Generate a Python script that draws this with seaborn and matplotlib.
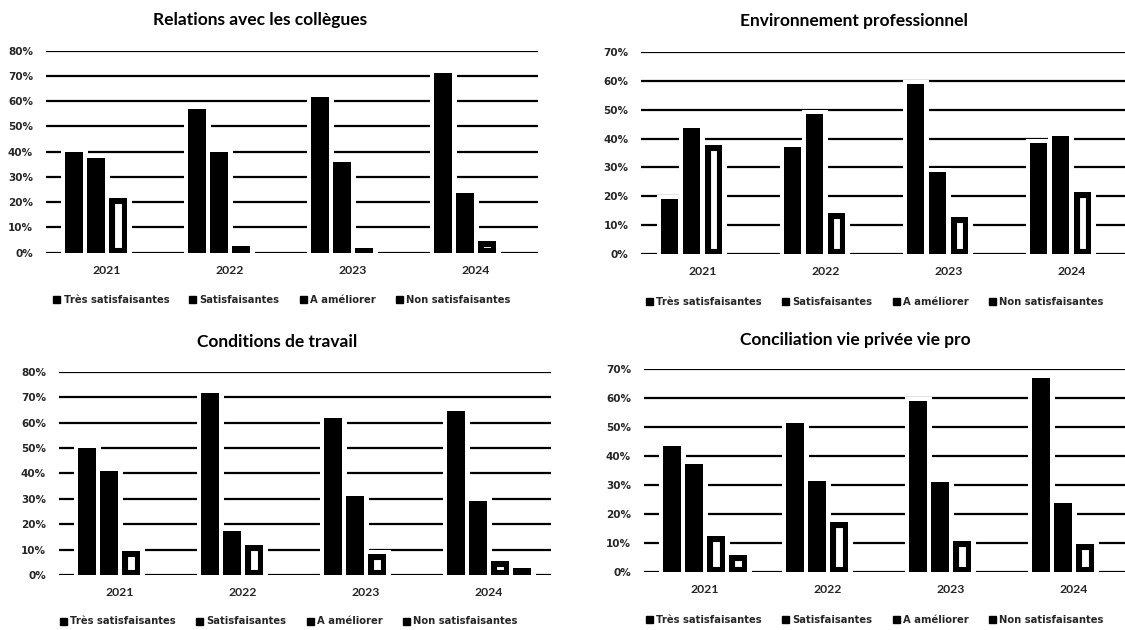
import matplotlib
matplotlib.use("Agg")
import matplotlib.pyplot as plt
from matplotlib.patches import Patch
from matplotlib.font_manager import FontProperties
import pandas as pd
import seaborn as sns

# ---------------- data ----------------
years = ["2021", "2022", "2023", "2024"]
series = ["Très satisfaisantes", "Satisfaisantes", "A améliorer", "Non satisfaisantes"]

titles = ["Relations avec les collègues", "Environnement professionnel",
          "Conditions de travail", "Conciliation vie privée vie pro"]

relations_tres = [40, 57, 61.5, 71]
relations_satis = [37.4, 40, 36, 23.5]
relations_amel = [21.5, 2.5, 2, 4.5]
relations_non = [0, 0, 0, 0]

environnement_tres = [19, 37, 59, 38.6]
environnement_satis = [43.7, 48.5, 28.5, 40.9]
environnement_amel = [37.6, 14.3, 13, 21.6]
environnement_non = [0, 0, 0, 0]

conditions_tres = [50, 71.6, 61.6, 64.6]
conditions_satis = [41, 17.4, 31.2, 29]
conditions_amel = [9.6, 11.8, 8.1, 5.6]
conditions_non = [0, 0, 0, 2.7]

conciliation_tres = [43.6, 51.3, 59, 66.9]
conciliation_satis = [37.4, 31.3, 31, 23.9]
conciliation_amel = [12.4, 17.1, 10.7, 9.8]
conciliation_non = [6, 0, 0, 0]

y_max = [80, 70, 80, 70]

all_values = [
    [relations_tres, relations_satis, relations_amel, relations_non],
    [environnement_tres, environnement_satis, environnement_amel, environnement_non],
    [conditions_tres, conditions_satis, conditions_amel, conditions_non],
    [conciliation_tres, conciliation_satis, conciliation_amel, conciliation_non],
]

# ---------------- layout (pixels) ----------------
W, H = 1125, 630
axes_px = [(45.5, 537.5, 50.7, 252.7),
           (641, 1133, 51.7, 254.3),
           (58.5, 550.5, 371.7, 575),
           (643.5, 1135.5, 369, 572)]
title_px = [(153, 25), (740, 26), (197, 347), (740, 345)]
legend_px = [(53, 300), (646, 302), (60, 621.5), (646, 620)]

sns.set_theme(style="white")
plt.rcParams['font.family'] = ['DejaVu Sans']

fig = plt.figure(figsize=(W / 100, H / 100), dpi=100)
fig.patch.set_facecolor("white")

tick_font = FontProperties(family="DejaVu Sans", weight="bold", size=7.5)
year_font = FontProperties(family="Lato", weight="bold", size=8.8)
title_font = FontProperties(family="Lato", weight="bold", size=12.5)
legend_font = FontProperties(family="DejaVu Sans", weight="bold", size=7.2)

for k in range(4):
    l, r, t, b = axes_px[k]
    ax = fig.add_axes([l / W, 1 - b / H, (r - l) / W, (b - t) / H])
    rows = []
    for s, vals in zip(series, all_values[k]):
        for yr, v in zip(years, vals):
            rows.append({"year": yr, "series": s, "value": v})
    df = pd.DataFrame(rows)

    # pass 1: white halo behind bars (breaks the gridlines around bars)
    sns.barplot(data=df, x="year", y="value", hue="series", order=years,
                hue_order=series, palette=["white"] * 4, width=0.715, gap=0.2,
                saturation=1, legend=False, ax=ax, errorbar=None)
    for p in ax.patches:
        p.set_edgecolor("white")
        p.set_linewidth(6.5)
        if p.get_height() == 0:
            p.set_visible(False)

    # pass 2: actual bars
    sns.barplot(data=df, x="year", y="value", hue="series", order=years,
                hue_order=series, palette=["black"] * 4, width=0.715, gap=0.2,
                saturation=1, legend=False, ax=ax, errorbar=None)
    containers = ax.containers[4:]
    for i, cont in enumerate(containers):
        for p in cont.patches:
            if i < 2:
                p.set_facecolor("black")
                p.set_edgecolor("black")
                p.set_linewidth(0)
            else:
                p.set_facecolor("white")
                p.set_edgecolor("black")
                p.set_linewidth(8.0)
                p.set_clip_path(p)

    ax.set_ylim(0, y_max[k])
    ax.set_xlim(-0.5, 3.5)
    ax.set_yticks(range(0, y_max[k] + 1, 10))
    ax.set_yticklabels([f"{v}%" for v in range(0, y_max[k] + 1, 10)])
    ax.set_axisbelow(True)
    ax.yaxis.grid(True, color="black", linewidth=1.6)
    ax.xaxis.grid(False)
    for sp in ax.spines.values():
        sp.set_visible(False)
    ax.tick_params(axis="y", length=0, pad=9)
    ax.tick_params(axis="x", length=0, pad=8.5)
    for lab in ax.get_yticklabels():
        lab.set_fontproperties(tick_font)
    for lab in ax.get_xticklabels():
        lab.set_fontproperties(year_font)
    ax.set_xlabel("")
    ax.set_ylabel("")
    ax.set_facecolor("white")

    tx, ty = title_px[k]
    fig.text(tx / W, 1 - ty / H, titles[k], fontproperties=title_font,
             ha="left", va="baseline", color="black")

    handles = [Patch(facecolor="black", edgecolor="black") for _ in series]
    lx, ly = legend_px[k]
    fig.legend(handles, series, loc="center left",
               bbox_to_anchor=(lx / W, 1 - ly / H), ncol=4, frameon=False,
               prop=legend_font, handlelength=0.7, handleheight=0.7,
               handletextpad=0.35, columnspacing=2.0, borderpad=0,
               borderaxespad=0)

fig.savefig("out.png", dpi=100, facecolor="white")
